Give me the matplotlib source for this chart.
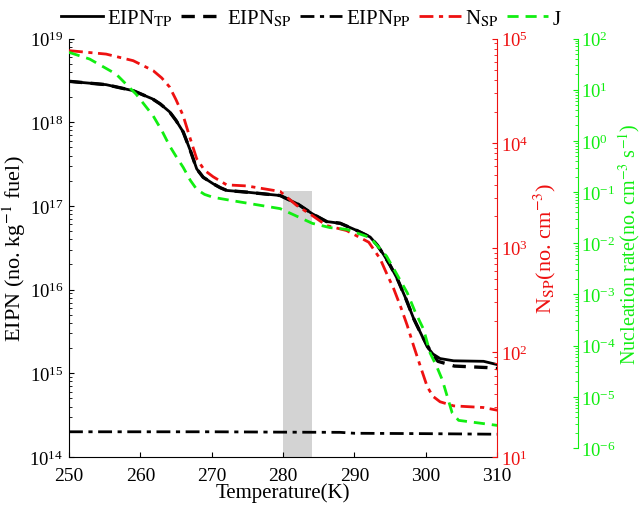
import numpy as np
import matplotlib
matplotlib.use('Agg')
import matplotlib.pyplot as plt
from matplotlib.ticker import LogLocator, NullFormatter

plt.rcParams['font.family'] = ['Liberation Serif', 'DejaVu Serif']
plt.rcParams['mathtext.fontset'] = 'stix'

RED = '#ee1111'
GREEN = '#11ee11'

# EIPN total particles (no. kg^-1 fuel)
t_tp = [250, 255.2, 259, 261.7, 262.8, 264.1, 265, 266, 267, 267.9, 268.8, 270.2, 271.2,
        272.1, 274.9, 279.6, 282, 284.1, 286.1, 288, 290.3, 292.2, 293.2, 294.1, 295,
        296, 297.2, 298.3, 299.3, 300.2, 301, 302, 303.9, 308.1, 310]
eipn_tp = [3.08e18, 2.81e18, 2.38e18, 1.9e18, 1.65e18, 1.33e18, 1.05e18, 7.66e17, 4.6e17,
           2.77e17, 2.2e17, 1.84e17, 1.65e17, 1.53e17, 1.46e17, 1.33e17, 1.06e17, 8.05e16,
           6.5e16, 6.2e16, 5.1e16, 4.25e16, 3.4e16, 2.61e16, 1.95e16, 1.35e16, 7.8e15,
           4.5e15, 3.0e15, 2.07e15, 1.7e15, 1.5e15, 1.41e15, 1.39e15, 1.27e15]

# EIPN soot particles
t_sp = [250, 255.2, 259, 261.7, 262.8, 264.1, 265, 266, 267, 267.9, 268.8, 270.2, 271.2,
        272.1, 274.9, 279.6, 282, 284.1, 286.1, 288, 290.3, 292.2, 293.2, 294.1, 295,
        296, 297.2, 298.3, 299.3, 300.6, 301.7, 304, 308.6, 310]
eipn_sp = [3.08e18, 2.81e18, 2.38e18, 1.9e18, 1.65e18, 1.33e18, 1.05e18, 7.66e17, 4.6e17,
           2.77e17, 2.2e17, 1.84e17, 1.65e17, 1.53e17, 1.46e17, 1.33e17, 1.06e17, 8.05e16,
           6.5e16, 6.2e16, 5.1e16, 4.25e16, 3.4e16, 2.61e16, 1.95e16, 1.35e16, 7.8e15,
           4.5e15, 3.0e15, 1.88e15, 1.39e15, 1.22e15, 1.17e15, 1.14e15]

# EIPN pure particles
t_pp = [250, 270, 280, 288, 290, 300, 310]
eipn_pp = [2.0e14, 2.0e14, 1.98e14, 1.97e14, 1.92e14, 1.9e14, 1.87e14]

# N_SP (no. cm^-3)
t_nsp = [250, 255.2, 259, 261.8, 263, 264.1, 265, 266, 267, 267.9, 269, 270.2, 272.1,
         274.9, 279.6, 281.9, 284.1, 286.1, 288.9, 292, 293.6, 294.5, 295.5, 296.5, 297.4,
         298.3, 299.2, 300.2, 301, 302, 303.9, 308.1, 310]
nsp = [7.66e4, 7.1e4, 6.14e4, 4.93e4, 4.2e4, 3.44e4, 2.6e4, 1.83e4, 1.1e4, 7.08e3, 5.5e3,
       4.77e3, 3.99e3, 3.9e3, 3.45e3, 2.54e3, 2.03e3, 1.63e3, 1.46e3, 1.13e3, 785, 570,
       406, 270, 181, 115, 75, 47, 38, 33.7, 30.8, 29.7, 28]

# J nucleation rate (no. cm^-3 s^-1)
t_j = [250, 252.9, 256.6, 259.4, 261.8, 263, 264.1, 265, 266, 267, 267.9, 269, 270.2,
       274, 279.6, 284.1, 286.6, 288.9, 292.2, 294.5, 296, 297.4, 298.5, 299.7, 300.6,
       301.5, 302.3, 303.7, 304.6, 310]
j_rate = [53.7, 39.7, 20.2, 8.2, 3.08, 1.6, 0.8, 0.5, 0.305, 0.17, 0.113, 0.09, 0.079,
          0.064, 0.0475, 0.0245, 0.0202, 0.0187, 0.0129, 0.0056, 2.4e-3, 1.08e-3, 4.6e-4,
          2.07e-4, 7.2e-5, 4.0e-5, 2.17e-5, 4.84e-6, 3.47e-6, 2.77e-6]

band_t = [280, 284]
band_top = 1.5e17

fig = plt.figure(figsize=(6.41, 5.06), dpi=100)
ax = fig.add_axes([0.1076, 0.0949, 0.668, 0.827])
ax.fill_between(band_t, 1e14, band_top, color='#d3d3d3', lw=0, zorder=0)
l_sp, = ax.plot(t_sp, eipn_sp, color='k', lw=2.4, ls=(0, (4, 2.5)))
l_tp, = ax.plot(t_tp, eipn_tp, color='k', lw=2)
l_pp, = ax.plot(t_pp, eipn_pp, color='k', lw=2, ls=(0, (5, 2, 1.5, 2)))
ax.set_yscale('log')
ax.set_xlim(250, 310)
ax.set_ylim(1e14, 1e19)
ax.set_xticks([250, 260, 270, 280, 290, 300, 310])
ax.set_xlabel('Temperature(K)', fontsize=15, labelpad=-1)
ax.set_ylabel('EIPN (no. kg$^{-1}$ fuel)', fontsize=16, labelpad=1)
ax.tick_params(axis='x', direction='in', labelsize=14, pad=7)
ax.tick_params(axis='y', direction='in', labelsize=13.5, pad=4)
ax.tick_params(which='minor', direction='in')
ax.yaxis.set_minor_locator(LogLocator(base=10, subs=np.arange(2, 10), numticks=20))
ax.yaxis.set_minor_formatter(NullFormatter())
ax.spines['top'].set_visible(False)
ax.spines['right'].set_visible(False)

ax2 = ax.twinx()
l_nsp, = ax2.plot(t_nsp, nsp, color=RED, lw=2, ls=(0, (5, 2, 1.5, 2)))
ax2.set_yscale('log')
ax2.set_ylim(1e1, 1e5)
ax2.set_ylabel('N$_{\\rm SP}$(no. cm$^{-3}$)', fontsize=16, color=RED, labelpad=2)
ax2.tick_params(axis='y', which='both', direction='in', colors=RED, labelsize=13.5, pad=3)
ax2.yaxis.set_minor_locator(LogLocator(base=10, subs=np.arange(2, 10), numticks=20))
ax2.yaxis.set_minor_formatter(NullFormatter())
for s in ['top', 'left', 'bottom']:
    ax2.spines[s].set_visible(False)
ax2.spines['right'].set_color(RED)

ax3 = fig.add_axes([0.1076, 0.1126, 0.668, 0.8093])
ax3.patch.set_visible(False)
l_j, = ax3.plot(t_j, j_rate, color=GREEN, lw=2, ls=(0, (4, 2.5)))
ax3.set_yscale('log')
ax3.set_xlim(250, 310)
ax3.set_ylim(1e-6, 1e2)
ax3.set_xticks([])
ax3.yaxis.set_label_position('right')
ax3.yaxis.tick_right()
ax3.spines['right'].set_position(('axes', 1.189))
ax3.spines['right'].set_color(GREEN)
for s in ['top', 'left', 'bottom']:
    ax3.spines[s].set_visible(False)
ax3.set_yticks([10.0 ** k for k in range(-6, 3)])
ax3.yaxis.set_minor_locator(LogLocator(base=10, subs=np.arange(2, 10), numticks=20))
ax3.yaxis.set_minor_formatter(NullFormatter())
ax3.tick_params(axis='y', which='both', direction='in', colors=GREEN, labelsize=13.5, pad=2)
ax3.set_ylabel('Nucleation rate(no. cm$^{-3}$ s$^{-1}$)', fontsize=14.5, color=GREEN,
               labelpad=0)

fig.legend([l_tp, l_sp, l_pp, l_nsp, l_j],
           ['EIPN$_{\\rm TP}$', 'EIPN$_{\\rm SP}$', 'EIPN$_{\\rm PP}$', 'N$_{\\rm SP}$', 'J'],
           loc='center', bbox_to_anchor=(0.485, 0.962), ncol=5, frameon=False,
           fontsize=15, handlelength=2.0, handletextpad=0.2, columnspacing=0.4,
           borderpad=0, borderaxespad=0)

fig.savefig('out.png', dpi=100)
